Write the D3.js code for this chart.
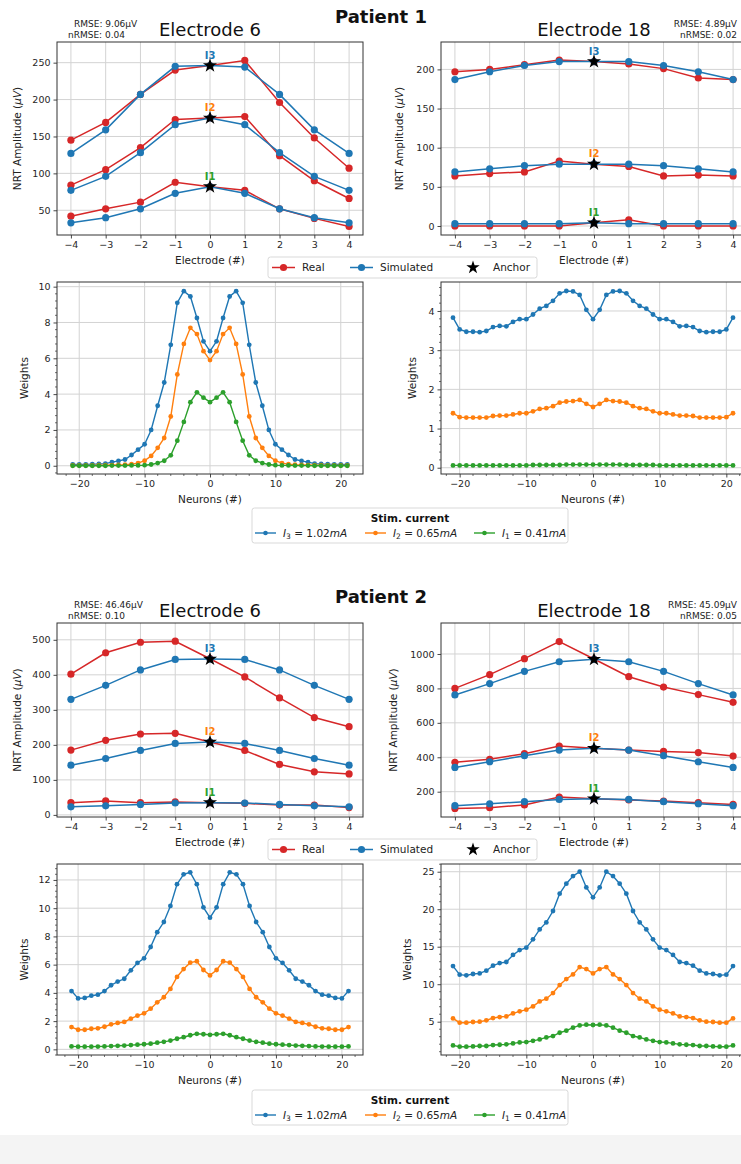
<!DOCTYPE html>
<html>
<head>
<meta charset="utf-8">
<script src="https://cdn.jsdelivr.net/npm/d3@7"></script>
<style>
  body { margin: 0; background: #fff; }
  svg { font-family: "DejaVu Sans", sans-serif; display: block; }
</style>
</head>
<body>
<svg id="drawing_region"></svg>
<script>
// ---- categories ----
const electrodes = [-4, -3, -2, -1, 0, 1, 2, 3, 4];
const neurons = [-21,-20,-19,-18,-17,-16,-15,-14,-13,-12,-11,-10,-9,-8,-7,-6,-5,-4,-3,-2,-1,0,
                 1,2,3,4,5,6,7,8,9,10,11,12,13,14,15,16,17,18,19,20,21];
const currents = ['I3', 'I2', 'I1'];
const stimLabels = [['3', '1.02'], ['2', '0.65'], ['1', '0.41']];

// ---- Patient 1, electrode 6 (NRT amplitude, uV) ----
const p1e6_real_I3 = [145, 169, 207, 240, 246, 253, 196, 148, 107];
const p1e6_sim_I3  = [127, 159, 207, 245, 246, 244, 207, 159, 127];
const p1e6_real_I2 = [84, 105, 135, 173, 175, 177, 124, 90, 66];
const p1e6_sim_I2  = [77, 96, 128, 166, 175, 166, 128, 96, 77];
const p1e6_real_I1 = [42, 52, 61, 88, 82, 77, 52, 39, 28];
const p1e6_sim_I1  = [33, 40, 52, 73, 82, 73, 52, 40, 33];
const p1e6_anchor  = [246, 175, 82];

// ---- Patient 1, electrode 18 ----
const p1e18_real_I3 = [197, 200, 206, 212, 210, 207, 201, 189, 187];
const p1e18_sim_I3  = [187, 197, 205, 210, 210, 210, 205, 197, 187];
const p1e18_real_I2 = [64, 67, 69, 83, 79, 76, 64, 65, 64];
const p1e18_sim_I2  = [69, 73, 77, 79, 79, 79, 77, 73, 69];
const p1e18_real_I1 = [0, 0, 0, 0, 4, 8, 0, 0, 0];
const p1e18_sim_I1  = [3, 3, 3, 3, 4, 3, 3, 3, 3];
const p1e18_anchor  = [210, 79, 4];

// ---- Patient 2, electrode 6 ----
const p2e6_real_I3 = [402, 463, 493, 496, 446, 394, 334, 278, 252];
const p2e6_sim_I3  = [330, 370, 414, 444, 445, 444, 414, 370, 330];
const p2e6_real_I2 = [185, 213, 231, 233, 208, 184, 144, 123, 117];
const p2e6_sim_I2  = [142, 161, 184, 204, 208, 204, 184, 161, 142];
const p2e6_real_I1 = [35, 40, 35, 37, 35, 33, 28, 28, 21];
const p2e6_sim_I1  = [23, 26, 30, 34, 35, 34, 30, 26, 23];
const p2e6_anchor  = [445, 208, 35];

// ---- Patient 2, electrode 18 ----
const p2e18_real_I3 = [800, 880, 973, 1072, 971, 868, 808, 764, 719];
const p2e18_sim_I3  = [762, 828, 899, 955, 969, 955, 899, 828, 762];
const p2e18_real_I2 = [371, 388, 421, 465, 452, 442, 434, 427, 407];
const p2e18_sim_I2  = [341, 374, 409, 442, 452, 442, 409, 374, 341];
const p2e18_real_I1 = [103, 107, 123, 169, 159, 152, 146, 136, 126];
const p2e18_sim_I1  = [119, 130, 142, 155, 159, 155, 142, 130, 119];
const p2e18_anchor  = [969, 452, 159];

// ---- neuron weights ----
const p1w6_I3 = [0.08,0.08,0.08,0.09,0.1,0.12,0.2,0.27,0.35,0.6,0.9,1.2,2.0,3.35,4.65,6.75,9.1,9.75,9.45,8.25,6.95,6.4,
                 6.95,8.25,9.45,9.75,9.1,6.75,4.65,3.35,2.0,1.2,0.9,0.6,0.35,0.27,0.2,0.12,0.1,0.09,0.08,0.08,0.08];
const p1w6_I2 = [0.02,0.02,0.02,0.02,0.03,0.03,0.04,0.05,0.06,0.09,0.15,0.28,0.55,1.0,1.55,2.75,5.1,6.8,7.7,7.35,6.4,5.9,
                 6.4,7.35,7.7,6.8,5.1,2.75,1.55,1.0,0.55,0.28,0.15,0.09,0.06,0.05,0.04,0.03,0.03,0.02,0.02,0.02,0.02];
const p1w6_I1 = [0,0,0,0,0,0,0.01,0.01,0.01,0.02,0.02,0.03,0.07,0.15,0.28,0.58,1.4,2.45,3.55,4.1,3.8,3.55,
                 3.8,4.1,3.55,2.45,1.4,0.58,0.28,0.15,0.07,0.03,0.02,0.02,0.01,0.01,0.01,0,0,0,0,0,0];

const p1w18_I3 = [3.83,3.53,3.47,3.47,3.46,3.49,3.59,3.62,3.61,3.72,3.79,3.79,3.91,4.06,4.13,4.26,4.45,4.51,4.5,4.41,4.03,3.79,
                  4.03,4.41,4.5,4.51,4.45,4.26,4.13,4.06,3.91,3.79,3.79,3.72,3.61,3.62,3.59,3.49,3.46,3.47,3.47,3.53,3.83];
const p1w18_I2 = [1.39,1.29,1.28,1.28,1.28,1.28,1.32,1.33,1.33,1.36,1.39,1.39,1.44,1.5,1.52,1.57,1.66,1.69,1.7,1.73,1.63,1.55,
                  1.63,1.73,1.7,1.69,1.66,1.57,1.52,1.5,1.44,1.39,1.39,1.36,1.33,1.33,1.32,1.28,1.28,1.28,1.28,1.29,1.39];
const p1w18_I1 = [0.06,0.06,0.06,0.06,0.06,0.06,0.06,0.06,0.06,0.06,0.06,0.06,0.07,0.07,0.07,0.07,0.07,0.08,0.08,0.08,0.08,0.08,
                  0.08,0.08,0.08,0.08,0.07,0.07,0.07,0.07,0.07,0.06,0.06,0.06,0.06,0.06,0.06,0.06,0.06,0.06,0.06,0.06,0.06];

const p2w6_I3 = [4.13,3.61,3.64,3.8,3.87,4.13,4.54,4.8,5.0,5.6,6.12,6.45,7.25,8.3,9.02,10.16,11.7,12.4,12.54,11.7,10.06,9.33,
                 10.06,11.7,12.54,12.4,11.7,10.16,9.02,8.3,7.25,6.45,6.12,5.6,5.0,4.8,4.54,4.13,3.87,3.8,3.64,3.61,4.13];
const p2w6_I2 = [1.58,1.39,1.39,1.46,1.49,1.6,1.77,1.87,1.94,2.17,2.39,2.55,2.88,3.33,3.69,4.28,5.13,5.69,6.14,6.24,5.62,5.24,
                 5.62,6.24,6.14,5.69,5.13,4.28,3.69,3.33,2.88,2.55,2.39,2.17,1.94,1.87,1.77,1.6,1.49,1.46,1.39,1.39,1.58];
const p2w6_I1 = [0.21,0.19,0.19,0.19,0.2,0.21,0.23,0.25,0.27,0.3,0.33,0.36,0.4,0.47,0.53,0.62,0.75,0.86,1.0,1.1,1.07,1.03,
                 1.07,1.1,1.0,0.86,0.75,0.62,0.53,0.47,0.4,0.36,0.33,0.3,0.27,0.25,0.23,0.21,0.2,0.19,0.19,0.19,0.21];

const p2w18_I3 = [12.42,11.27,11.18,11.36,11.44,11.8,12.47,12.82,12.96,13.9,14.55,14.87,15.98,17.31,18.24,19.76,22.07,23.4,24.42,25.0,22.9,21.58,
                  22.9,25.0,24.42,23.4,22.07,19.76,18.24,17.31,15.98,14.87,14.55,13.9,12.96,12.82,12.47,11.8,11.44,11.36,11.18,11.27,12.42];
const p2w18_I2 = [5.44,4.87,4.87,4.96,5.0,5.18,5.49,5.62,5.71,6.11,6.38,6.6,7.04,7.71,8.07,8.82,9.89,10.69,11.31,12.29,12.02,11.44,
                  12.02,12.29,11.31,10.69,9.89,8.82,8.07,7.71,7.04,6.6,6.38,6.11,5.71,5.62,5.49,5.18,5.0,4.96,4.87,4.87,5.44];
const p2w18_I1 = [1.84,1.67,1.67,1.71,1.76,1.76,1.89,1.93,1.98,2.11,2.24,2.29,2.45,2.64,2.9,3.09,3.53,3.8,4.2,4.51,4.6,4.56,
                  4.6,4.51,4.2,3.8,3.53,3.09,2.9,2.64,2.45,2.29,2.24,2.11,1.98,1.93,1.89,1.76,1.76,1.71,1.67,1.67,1.84];

// ---- styles ----
const col = { real: '#d62728', sim: '#1f77b4', I3: '#1f77b4', I2: '#ff7f0e', I1: '#2ca02c' };
const gridColor = '#d3d3d3';
const spineColor = '#333';
const tickFont = 9.5;
const tickFmt = d3.format('~g');

const svg = d3.select('#drawing_region')
    .attr('width', 741)
    .attr('height', 1164);

svg.append('rect').attr('x', 0).attr('y', 1135).attr('width', 741).attr('height', 29).attr('fill', '#f4f4f4');

function styleAxis(g) {
    g.select('.domain').remove();
    g.selectAll('.tick line').attr('stroke', spineColor).attr('stroke-width', 0.9);
    g.selectAll('.tick text').attr('fill', '#262626').attr('font-size', tickFont)
        .attr('font-family', '"DejaVu Sans", sans-serif');
}

function frame(g, x0, x1, yb, yt) {
    g.append('rect')
        .attr('x', x0).attr('y', yt)
        .attr('width', x1 - x0).attr('height', yb - yt)
        .attr('fill', 'none').attr('stroke', spineColor).attr('stroke-width', 1);
}

function grid(g, x, y, xt, yt) {
    const [xa, xb] = x.range();
    const [ya, yb] = y.range();
    g.append('g').selectAll('line').data(xt).join('line')
        .attr('x1', d => x(d)).attr('x2', d => x(d))
        .attr('y1', ya).attr('y2', yb)
        .attr('stroke', gridColor).attr('stroke-width', 1);
    g.append('g').selectAll('line').data(yt).join('line')
        .attr('x1', xa).attr('x2', xb)
        .attr('y1', d => y(d)).attr('y2', d => y(d))
        .attr('stroke', gridColor).attr('stroke-width', 1);
}

function ylabel(g, text, x, y, mu) {
    const t = g.append('text')
        .attr('transform', `translate(${x},${y}) rotate(-90)`)
        .attr('text-anchor', 'middle')
        .attr('font-size', 10.5).attr('fill', '#222');
    t.append('tspan').text(text);
    if (mu) {
        t.append('tspan').text(' (');
        t.append('tspan').attr('font-style', 'italic').text('\u03bcV');
        t.append('tspan').text(')');
    }
}

// amplitude panel: real vs simulated NRT
function ampChart(c) {
    const g = svg.append('g');
    const x = d3.scaleLinear().domain([-4.4, 4.4]).range([c.left, c.left + 306]);
    const y = d3.scaleLinear().domain(c.ydom).range([c.bottom, c.top]);

    grid(g, x, y, electrodes, c.yticks);

    const line = d3.line().x((d, i) => x(electrodes[i])).y(d => y(d));
    [['real', c.real], ['sim', c.sim]].forEach(([key, sets]) => {
        sets.forEach(vals => {
            g.append('path').datum(vals)
                .attr('d', line).attr('fill', 'none')
                .attr('stroke', col[key]).attr('stroke-width', 1.5);
            g.append('g').selectAll('circle').data(vals).join('circle')
                .attr('cx', (d, i) => x(electrodes[i])).attr('cy', d => y(d))
                .attr('r', 3.6).attr('fill', col[key]);
        });
    });

    const star = d3.symbol(d3.symbolStar).size(62);
    c.anchor.forEach((v, i) => {
        g.append('path').attr('d', star)
            .attr('transform', `translate(${x(0)},${y(v)})`)
            .attr('fill', '#000');
        g.append('text')
            .attr('x', x(0)).attr('y', y(v) - 7)
            .attr('text-anchor', 'middle')
            .attr('font-size', 10).attr('font-weight', 'bold')
            .attr('fill', col[currents[i]])
            .text(currents[i]);
    });

    frame(g, c.left, c.left + 306, c.bottom, c.top);

    g.append('g').attr('transform', `translate(0,${c.bottom})`)
        .call(d3.axisBottom(x).tickValues(electrodes).tickFormat(tickFmt).tickSize(3.5).tickPadding(3))
        .call(styleAxis);
    g.append('g').attr('transform', `translate(${c.left},0)`)
        .call(d3.axisLeft(y).tickValues(c.yticks).tickFormat(tickFmt).tickSize(3.5).tickPadding(3))
        .call(styleAxis);

    g.append('text')
        .attr('x', c.left + 153).attr('y', c.bottom + 29)
        .attr('text-anchor', 'middle').attr('font-size', 10.5).attr('fill', '#222')
        .text('Electrode (#)');
    ylabel(g, 'NRT Amplitude', c.ylabX, (c.top + c.bottom) / 2, true);

    g.append('text')
        .attr('x', c.left + 153).attr('y', c.top - 6)
        .attr('text-anchor', 'middle').attr('font-size', 18).attr('fill', '#111')
        .text(c.title);

    c.stats.forEach((s, i) => {
        g.append('text')
            .attr('x', s.x).attr('y', c.top - 15 + i * 10.5)
            .attr('text-anchor', s.anchor)
            .attr('font-size', 9).attr('fill', '#222')
            .text(s.text);
    });
}

// weights panel: neuron weights per stimulation current
function weightChart(c) {
    const g = svg.append('g');
    const x = d3.scaleLinear().domain(c.xdom).range([c.left, c.right]);
    const y = d3.scaleLinear().domain(c.ydom).range([c.bottom, c.top]);
    const xt = [-20, -10, 0, 10, 20];

    grid(g, x, y, xt, c.yticks);

    const line = d3.line().x((d, i) => x(neurons[i])).y(d => y(d));
    c.series.forEach((vals, k) => {
        const color = col[currents[k]];
        g.append('path').datum(vals)
            .attr('d', line).attr('fill', 'none')
            .attr('stroke', color).attr('stroke-width', 1.4);
        g.append('g').selectAll('circle').data(vals).join('circle')
            .attr('cx', (d, i) => x(neurons[i])).attr('cy', d => y(d))
            .attr('r', 2.4).attr('fill', color);
    });

    frame(g, c.left, c.right, c.bottom, c.top);

    // minor ticks
    const xminor = d3.range(-22, 23, 2).filter(d => d % 10 !== 0);
    g.append('g').selectAll('line').data(xminor).join('line')
        .attr('x1', d => x(d)).attr('x2', d => x(d))
        .attr('y1', c.bottom).attr('y2', c.bottom + 2)
        .attr('stroke', spineColor).attr('stroke-width', 0.7);
    const yminor = d3.range(Math.ceil(c.ydom[0] / c.ystep) * c.ystep, c.ydom[1], c.ystep)
        .filter(d => !c.yticks.some(t => Math.abs(t - d) < 1e-6));
    g.append('g').selectAll('line').data(yminor).join('line')
        .attr('x1', c.left - 2).attr('x2', c.left)
        .attr('y1', d => y(d)).attr('y2', d => y(d))
        .attr('stroke', spineColor).attr('stroke-width', 0.7);

    g.append('g').attr('transform', `translate(0,${c.bottom})`)
        .call(d3.axisBottom(x).tickValues(xt).tickFormat(tickFmt).tickSize(3.5).tickPadding(3))
        .call(styleAxis);
    g.append('g').attr('transform', `translate(${c.left},0)`)
        .call(d3.axisLeft(y).tickValues(c.yticks).tickFormat(tickFmt).tickSize(3.5).tickPadding(3))
        .call(styleAxis);

    g.append('text')
        .attr('x', c.labX).attr('y', c.bottom + 29)
        .attr('text-anchor', 'middle').attr('font-size', 10.5).attr('fill', '#222')
        .text('Neurons (#)');
    ylabel(g, 'Weights', c.ylabX, (c.top + c.bottom) / 2, false);
}

function ampLegend(yc) {
    const g = svg.append('g');
    g.append('rect').attr('x', 268).attr('y', yc - 10.5).attr('width', 269).attr('height', 21)
        .attr('rx', 2.5).attr('fill', '#fff').attr('stroke', '#cfcfcf').attr('stroke-width', 0.8);
    [['Real', col.real, 272], ['Simulated', col.sim, 350]].forEach(([name, color, x0]) => {
        g.append('line').attr('x1', x0).attr('x2', x0 + 23).attr('y1', yc).attr('y2', yc)
            .attr('stroke', color).attr('stroke-width', 1.5);
        g.append('circle').attr('cx', x0 + 11.5).attr('cy', yc).attr('r', 3.6).attr('fill', color);
        g.append('text').attr('x', x0 + 30).attr('y', yc + 3.6)
            .attr('font-size', 10.5).attr('fill', '#222').text(name);
    });
    g.append('path').attr('d', d3.symbol(d3.symbolStar).size(55))
        .attr('transform', `translate(473,${yc})`).attr('fill', '#000');
    g.append('text').attr('x', 493).attr('y', yc + 3.6)
        .attr('font-size', 10.5).attr('fill', '#222').text('Anchor');
}

function stimLegend(top) {
    const g = svg.append('g');
    g.append('rect').attr('x', 252).attr('y', top).attr('width', 316).attr('height', 35)
        .attr('rx', 2.5).attr('fill', '#fff').attr('stroke', '#cfcfcf').attr('stroke-width', 0.8);
    g.append('text').attr('x', 410).attr('y', top + 13.5)
        .attr('text-anchor', 'middle').attr('font-size', 10.5).attr('font-weight', 'bold')
        .attr('fill', '#111').text('Stim. current');
    const xs = [255, 365, 474];
    stimLabels.forEach(([sub, val], k) => {
        const color = col[currents[k]];
        const x0 = xs[k], yc = top + 25;
        g.append('line').attr('x1', x0).attr('x2', x0 + 21).attr('y1', yc).attr('y2', yc)
            .attr('stroke', color).attr('stroke-width', 1.4);
        g.append('circle').attr('cx', x0 + 10.5).attr('cy', yc).attr('r', 2.3).attr('fill', color);
        const t = g.append('text').attr('x', x0 + 28).attr('y', yc + 3.6)
            .attr('font-size', 10.5).attr('fill', '#222');
        t.append('tspan').attr('font-style', 'italic').text('I');
        t.append('tspan').attr('font-size', 7.5).attr('dy', 2.5).text(sub);
        t.append('tspan').attr('dy', -2.5).text(' = ' + val);
        t.append('tspan').attr('font-style', 'italic').text('mA');
    });
}

function patientTitle(text, y) {
    svg.append('text').attr('x', 381).attr('y', y)
        .attr('text-anchor', 'middle').attr('font-size', 18).attr('font-weight', 'bold')
        .attr('fill', '#111').text(text);
}

// ---------- Patient 1 ----------
patientTitle('Patient 1', 23);

ampChart({
    left: 57, top: 42, bottom: 235, ydom: [16.5, 278], yticks: [50, 100, 150, 200, 250],
    real: [p1e6_real_I3, p1e6_real_I2, p1e6_real_I1],
    sim: [p1e6_sim_I3, p1e6_sim_I2, p1e6_sim_I1],
    anchor: p1e6_anchor, title: 'Electrode 6', ylabX: 21,
    stats: [{ text: 'RMSE: 9.06\u03bcV', x: 74, anchor: 'start' }, { text: 'nRMSE: 0.04', x: 68, anchor: 'start' }]
});
ampChart({
    left: 441, top: 42, bottom: 235, ydom: [-11.5, 235], yticks: [0, 50, 100, 150, 200],
    real: [p1e18_real_I3, p1e18_real_I2, p1e18_real_I1],
    sim: [p1e18_sim_I3, p1e18_sim_I2, p1e18_sim_I1],
    anchor: p1e18_anchor, title: 'Electrode 18', ylabX: 403,
    stats: [{ text: 'RMSE: 4.89\u03bcV', x: 737, anchor: 'end' }, { text: 'nRMSE: 0.02', x: 737, anchor: 'end' }]
});
ampLegend(267.5);

weightChart({
    left: 57, right: 363, top: 282, bottom: 474, xdom: [-23.4, 23.4], ydom: [-0.46, 10.26],
    yticks: [0, 2, 4, 6, 8, 10], ystep: 0.4, labX: 210, ylabX: 28,
    series: [p1w6_I3, p1w6_I2, p1w6_I1]
});
weightChart({
    left: 441, right: 745, top: 282, bottom: 474, xdom: [-22.8, 22.8], ydom: [-0.16, 4.74],
    yticks: [0, 1, 2, 3, 4], ystep: 0.2, labX: 593, ylabX: 416,
    series: [p1w18_I3, p1w18_I2, p1w18_I1]
});
stimLegend(508);

// ---------- Patient 2 ----------
patientTitle('Patient 2', 603);

ampChart({
    left: 57, top: 623, bottom: 817, ydom: [-6, 548], yticks: [0, 100, 200, 300, 400, 500],
    real: [p2e6_real_I3, p2e6_real_I2, p2e6_real_I1],
    sim: [p2e6_sim_I3, p2e6_sim_I2, p2e6_sim_I1],
    anchor: p2e6_anchor, title: 'Electrode 6', ylabX: 21,
    stats: [{ text: 'RMSE: 46.46\u03bcV', x: 74, anchor: 'start' }, { text: 'nRMSE: 0.10', x: 68, anchor: 'start' }]
});
ampChart({
    left: 441, top: 623, bottom: 817, ydom: [53, 1180], yticks: [200, 400, 600, 800, 1000],
    real: [p2e18_real_I3, p2e18_real_I2, p2e18_real_I1],
    sim: [p2e18_sim_I3, p2e18_sim_I2, p2e18_sim_I1],
    anchor: p2e18_anchor, title: 'Electrode 18', ylabX: 397,
    stats: [{ text: 'RMSE: 45.09\u03bcV', x: 737, anchor: 'end' }, { text: 'nRMSE: 0.05', x: 737, anchor: 'end' }]
});
ampLegend(849.5);

weightChart({
    left: 57, right: 363, top: 864, bottom: 1055, xdom: [-23.2, 23.2], ydom: [-0.4, 13.13],
    yticks: [0, 2, 4, 6, 8, 10, 12], ystep: 0.4, labX: 210, ylabX: 28,
    series: [p2w6_I3, p2w6_I2, p2w6_I1]
});
weightChart({
    left: 441, right: 745, top: 864, bottom: 1055, xdom: [-22.8, 22.8], ydom: [0.56, 26.03],
    yticks: [5, 10, 15, 20, 25], ystep: 1, labX: 593, ylabX: 411,
    series: [p2w18_I3, p2w18_I2, p2w18_I1]
});
stimLegend(1090);
</script>
</body>
</html>
